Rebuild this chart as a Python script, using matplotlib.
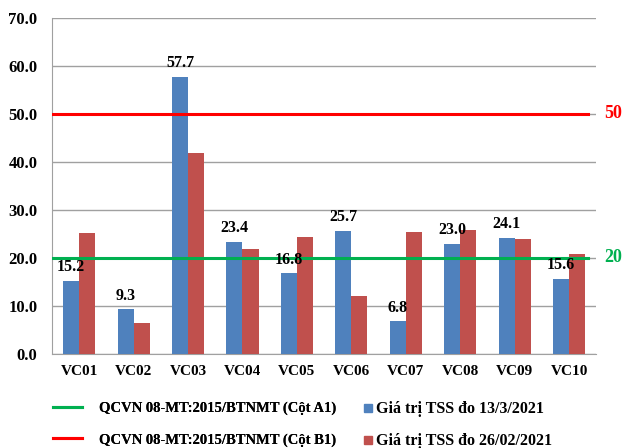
import numpy as np
import matplotlib.pyplot as plt
from matplotlib.lines import Line2D

# data
stations = ["VC01", "VC02", "VC03", "VC04", "VC05", "VC06", "VC07", "VC08", "VC09", "VC10"]
tss_13_3 = [15.2, 9.3, 57.7, 23.4, 16.8, 25.7, 6.8, 23.0, 24.1, 15.6]
tss_26_02 = [25.2, 6.5, 41.9, 21.9, 24.4, 12.1, 25.4, 25.8, 24.0, 20.8]
limit_a1 = 20
limit_b1 = 50

plt.rcParams["font.family"] = ["Liberation Serif", "DejaVu Serif"]
plt.rcParams["font.weight"] = "bold"

fig = plt.figure(figsize=(6.3, 4.48), dpi=100)
ax = fig.add_axes([0.0825, 0.21, 0.864, 0.75])

x = np.arange(len(stations))
w = 0.295
blue = "#4f81bd"
red = "#c0504d"
green = "#00b050"
ax.bar(x - w / 2, tss_13_3, w, color=blue, zorder=3)
ax.bar(x + w / 2, tss_26_02, w, color=red, zorder=3)

for xi, v in zip(x, tss_13_3):
    ax.text(xi - w / 2, v + 1.2, f"{v:.1f}", ha="center", va="bottom",
            fontsize=11.5, fontweight="bold", zorder=5)

ax.axhline(limit_a1, color=green, lw=2.2, zorder=4, xmax=0.985)
ax.axhline(limit_b1, color="#ff0000", lw=2.2, zorder=4, xmax=0.985)
ax.text(1.015, limit_b1, str(limit_b1), transform=ax.get_yaxis_transform(),
        color="#ff0000", fontsize=13, fontweight="bold", va="center", ha="left")
ax.text(1.015, limit_a1, str(limit_a1), transform=ax.get_yaxis_transform(),
        color=green, fontsize=13, fontweight="bold", va="center", ha="left")

ax.set_xlim(-0.5, len(stations) - 0.5)
ax.set_ylim(0, 70)
ax.set_yticks(np.arange(0, 71, 10))
ax.set_yticklabels([f"{t:.1f}" for t in np.arange(0, 71, 10)], fontsize=12, fontweight="bold")
ax.set_xticks(x)
ax.set_xticklabels(stations, fontsize=11, fontweight="bold")
ax.tick_params(axis="y", length=0, pad=10.5)
ax.tick_params(axis="x", length=0, pad=8)
ax.grid(axis="y", color="#a0a0a0", lw=1, zorder=0)
for s in ["top", "right"]:
    ax.spines[s].set_visible(False)
ax.spines["left"].set_color("#a0a0a0")
ax.spines["bottom"].set_color("#a0a0a0")

# legend: limit lines on the left, bar series on the right
line_handles = [Line2D([0], [0], color=green, lw=2.2),
                Line2D([0], [0], color="#ff0000", lw=2.2)]
line_labels = ["QCVN 08-MT:2015/BTNMT (Cột A1)", "QCVN 08-MT:2015/BTNMT (Cột B1)"]
bar_handles = [Line2D([0], [0], marker="s", ls="none", color=blue, markersize=6),
               Line2D([0], [0], marker="s", ls="none", color=red, markersize=6)]
bar_labels = ["Giá trị TSS đo 13/3/2021", "Giá trị TSS đo 26/02/2021"]

leg1 = fig.legend(line_handles, line_labels, loc="lower left", bbox_to_anchor=(0.0625, -0.026),
                  frameon=False, prop={"size": 10.5, "weight": "bold"},
                  handlelength=2.05, handletextpad=1.15, labelspacing=1.25)
fig.add_artist(leg1)
fig.legend(bar_handles, bar_labels, loc="lower left", bbox_to_anchor=(0.553, -0.035),
           frameon=False, prop={"size": 11.5, "weight": "bold"},
           handlelength=0.6, handletextpad=0.2, labelspacing=1.0)

fig.savefig("out.png", dpi=100)
